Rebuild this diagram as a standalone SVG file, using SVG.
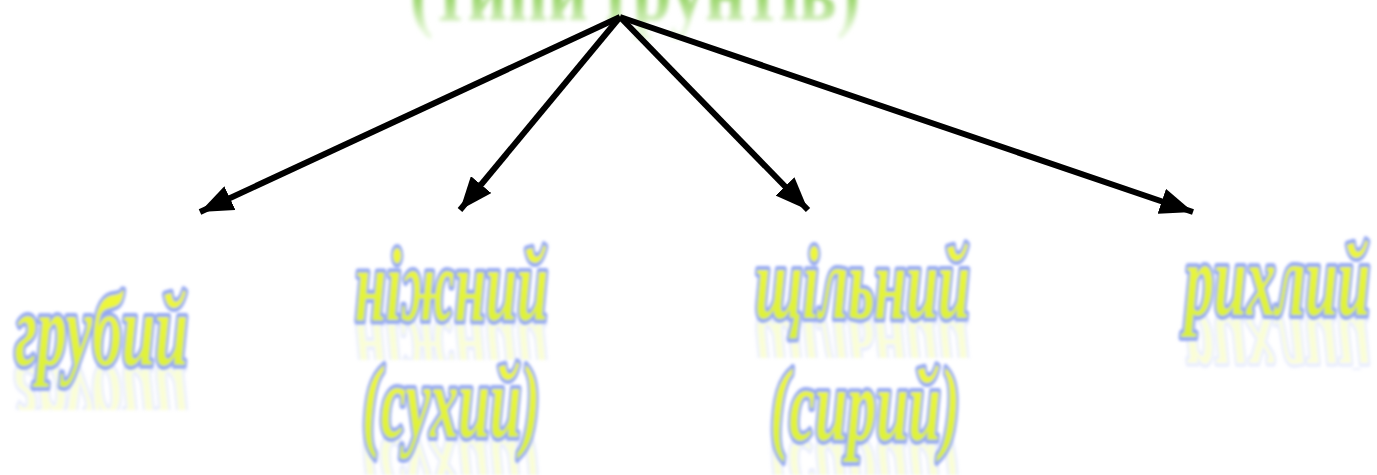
<svg xmlns="http://www.w3.org/2000/svg" width="1377" height="475" viewBox="0 0 1377 475">
  <defs>
    <style>
      .lbl { font-family: "Liberation Serif", "DejaVu Serif", serif; font-weight: bold; font-style: italic; font-size: 104px; fill: url(#yel); stroke: #94a8f4; stroke-width: 8px; paint-order: stroke; stroke-linejoin: round; }
      .glow { filter: url(#blur); }
      .refl { opacity: 0.2; }
      .top { font-family: "Liberation Serif", "DejaVu Serif", serif; font-weight: bold; font-size: 90px; fill: url(#grn); filter: url(#blur2); }
      .conn { stroke: #000; stroke-width: 6; fill: none; marker-end: url(#ah); }
    </style>
    <linearGradient id="yel" x1="0" y1="0" x2="0" y2="1">
      <stop offset="0" stop-color="#f4f83a"/>
      <stop offset="1" stop-color="#d8f03a"/>
    </linearGradient>
    <linearGradient id="grn" gradientUnits="userSpaceOnUse" x1="0" y1="0" x2="0" y2="30">
      <stop offset="0" stop-color="#9fd872"/>
      <stop offset="1" stop-color="#e4f6d6"/>
    </linearGradient>
    <filter id="blur" x="-10%" y="-20%" width="120%" height="140%">
      <feGaussianBlur stdDeviation="1.4"/>
    </filter>
    <filter id="blur2" x="-10%" y="-30%" width="120%" height="160%">
      <feGaussianBlur stdDeviation="2.2"/>
    </filter>
    <clipPath id="c1"><rect x="0" y="365" width="260" height="45"/></clipPath>
    <clipPath id="c2"><rect x="330" y="320" width="240" height="40"/></clipPath>
    <clipPath id="c3"><rect x="330" y="437" width="240" height="38"/></clipPath>
    <clipPath id="c4"><rect x="730" y="318" width="260" height="40"/></clipPath>
    <clipPath id="c5"><rect x="730" y="440" width="260" height="35"/></clipPath>
    <clipPath id="c6"><rect x="1160" y="315" width="217" height="55"/></clipPath>
    <marker id="ah" viewBox="0 0 10 8" refX="10" refY="4" markerWidth="5.5" markerHeight="4.4" orient="auto" markerUnits="strokeWidth">
      <path d="M0,0 L10,4 L0,8 Z" fill="#000"/>
    </marker>
  </defs>

  <rect width="1377" height="475" fill="#ffffff"/>

  <g id="title">
    <text class="top" x="410" y="20" textLength="450" lengthAdjust="spacingAndGlyphs">(типи ґрунтів)</text>
  </g>

  <g id="connectors">
    <line class="conn" x1="620" y1="17" x2="200" y2="212"/>
    <line class="conn" x1="620" y1="17" x2="460" y2="210"/>
    <line class="conn" x1="620" y1="17" x2="808" y2="210"/>
    <line class="conn" x1="620" y1="17" x2="1193" y2="212"/>
  </g>

  <g id="node-grubyi" class="glow">
    <g clip-path="url(#c1)"><text class="lbl refl" transform="translate(0,730) scale(1,-1)" x="15" y="365" textLength="173" lengthAdjust="spacingAndGlyphs">грубий</text></g>
    <text class="lbl" x="15" y="365" textLength="173" lengthAdjust="spacingAndGlyphs">грубий</text>
  </g>

  <g id="node-nizhnyi" class="glow">
    <g clip-path="url(#c2)"><text class="lbl refl" transform="translate(0,640) scale(1,-1)" x="355" y="320" textLength="193" lengthAdjust="spacingAndGlyphs">ніжний</text></g>
    <text class="lbl" x="355" y="320" textLength="193" lengthAdjust="spacingAndGlyphs">ніжний</text>
    <g clip-path="url(#c3)"><text class="lbl refl" transform="translate(0,874) scale(1,-1)" x="362" y="437" textLength="178" lengthAdjust="spacingAndGlyphs">(сухий)</text></g>
    <text class="lbl" x="362" y="437" textLength="178" lengthAdjust="spacingAndGlyphs">(сухий)</text>
  </g>

  <g id="node-shchilnyi" class="glow">
    <g clip-path="url(#c4)"><text class="lbl refl" transform="translate(0,636) scale(1,-1)" x="755" y="318" textLength="215" lengthAdjust="spacingAndGlyphs">щільний</text></g>
    <text class="lbl" x="755" y="318" textLength="215" lengthAdjust="spacingAndGlyphs">щільний</text>
    <g clip-path="url(#c5)"><text class="lbl refl" transform="translate(0,880) scale(1,-1)" x="770" y="440" textLength="190" lengthAdjust="spacingAndGlyphs">(сирий)</text></g>
    <text class="lbl" x="770" y="440" textLength="190" lengthAdjust="spacingAndGlyphs">(сирий)</text>
  </g>

  <g id="node-rykhlyi" class="glow">
    <g clip-path="url(#c6)"><text class="lbl refl" transform="translate(0,630) scale(1,-1)" x="1185" y="315" textLength="185" lengthAdjust="spacingAndGlyphs">рихлий</text></g>
    <text class="lbl" x="1185" y="315" textLength="185" lengthAdjust="spacingAndGlyphs">рихлий</text>
  </g>
</svg>
